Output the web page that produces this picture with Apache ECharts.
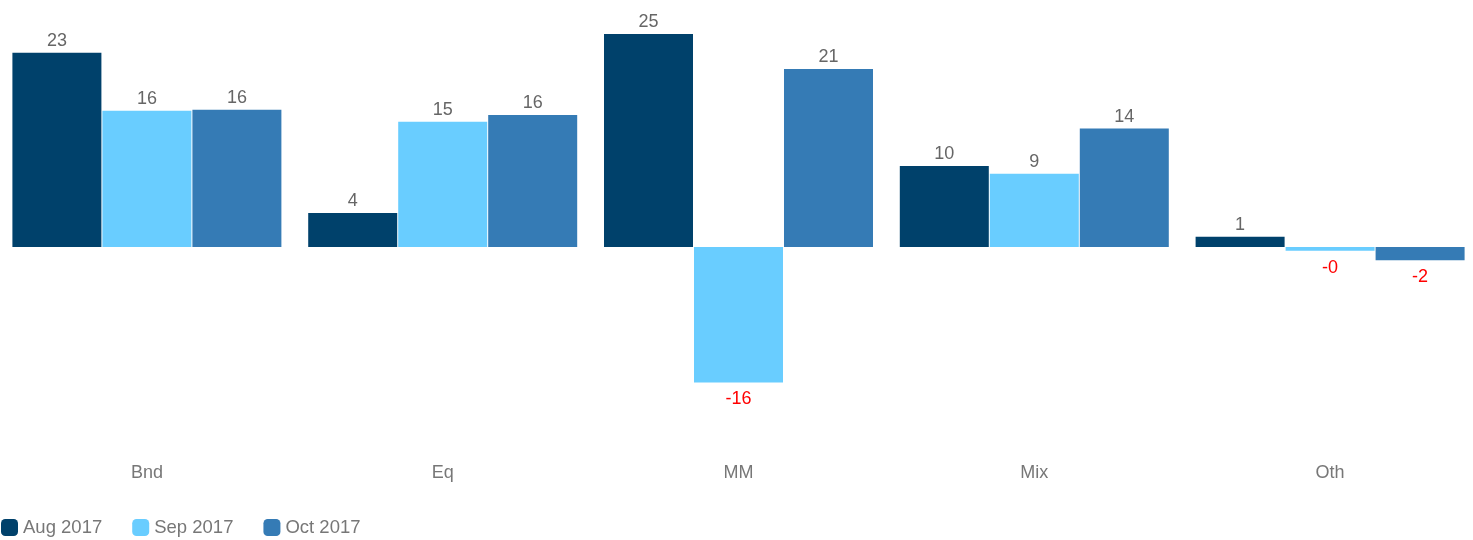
<!DOCTYPE html>
<html><head><meta charset="utf-8">
<script src="https://cdn.jsdelivr.net/npm/echarts@6/dist/echarts.min.js"></script>
<style>html,body{margin:0;padding:0;background:#fff;overflow:hidden}#c{width:1479px;height:540px;margin-left:-1px}</style>
</head><body><div id="c"></div>
<script>
const categories = ['Bnd', 'Eq', 'MM', 'Mix', 'Oth'];
const seriesNames = ['Aug 2017', 'Sep 2017', 'Oct 2017'];
const aug2017 = [22.8, 4.0, 25.0, 9.5, 1.2];
const sep2017 = [16.0, 14.7, -15.9, 8.6, -0.45];
const oct2017 = [16.1, 15.5, 20.9, 13.9, -1.55];
const colors = ['#00416B', '#69CDFF', '#357BB5'];

const FONT = 'Liberation Sans, Arial, sans-serif';
function mk(name, vals, color) {
  return {
    name: name, type: 'bar', barWidth: 89, barGap: '1.12%', barCategoryGap: '9%',
    itemStyle: { color: color },
    data: vals.map(v => ({
      value: v,
      label: {
        show: true,
        position: v < 0 ? 'bottom' : 'top',
        distance: v < 0 ? 8 : 3,
        color: v < 0 ? '#FF0000' : '#666666',
        fontSize: 18, fontFamily: FONT,
        formatter: p => (Math.round(p.value * 100) / 100).toFixed(0)
      }
    }))
  };
}
const chart = echarts.init(document.getElementById('c'));
chart.setOption({
  animation: false,
  textStyle: { fontFamily: FONT },
  color: colors,
  legend: {
    left: 2, bottom: 3, padding: 0, itemWidth: 17, itemHeight: 17, itemGap: 30, icon: 'roundRect',
    textStyle: { color: '#777777', fontSize: 18.5, fontFamily: FONT },
    data: seriesNames
  },
  grid: { left: 0, right: 0, top: 34, bottom: 80, containLabel: false },
  xAxis: {
    type: 'category', data: categories, position: 'bottom',
    axisLine: { show: false }, axisTick: { show: false }, splitLine: { show: false },
    axisLabel: { color: '#777777', fontSize: 18, fontFamily: FONT, margin: 4 }
  },
  yAxis: {
    type: 'value', min: -25, max: 25, show: false, splitLine: { show: false }
  },
  series: [mk(seriesNames[0], aug2017, colors[0]), mk(seriesNames[1], sep2017, colors[1]), mk(seriesNames[2], oct2017, colors[2])]
});
</script></body></html>
